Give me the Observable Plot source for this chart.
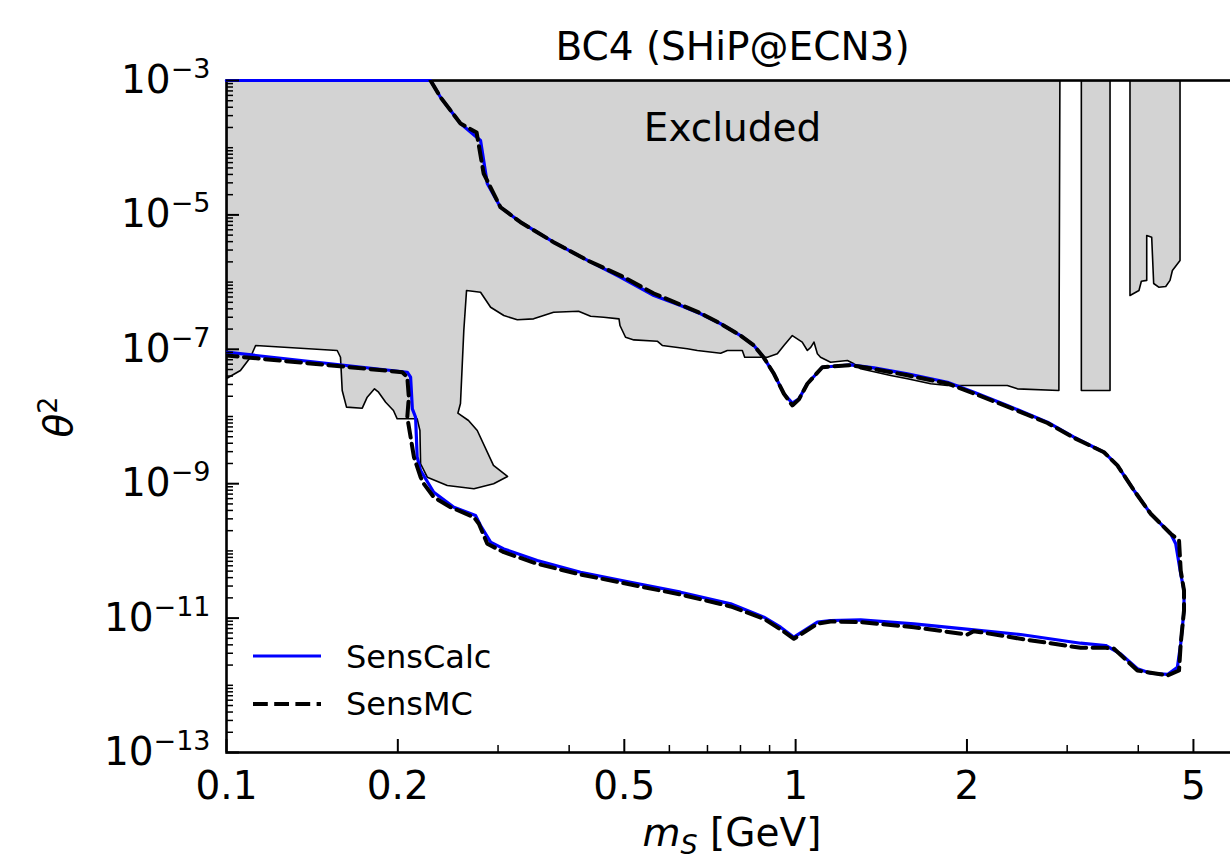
<!DOCTYPE html>
<html><head><meta charset="utf-8">
<script src="https://cdn.jsdelivr.net/npm/d3@7"></script>
<script src="https://cdn.jsdelivr.net/npm/@observablehq/plot@0.6"></script>
<style>
html,body{margin:0;padding:0;background:#fff;overflow:hidden;}
#chart{width:1230px;height:863px;overflow:hidden;}
#chart svg{max-width:none !important;width:1238px !important;height:863px !important;}
</style></head><body><div id="chart"></div>
<script>
// ---------- data ----------
const calcMass = [0.2283,0.2377,0.2577,0.2795,0.2872,0.3030,0.3286,0.3756,0.4310,0.4927,
  0.5636,0.6279,0.6808,0.7384,0.8004,0.8447,0.8796,0.9160,0.9537,0.9867,
  1.0135,1.0486,1.114,1.168,1.249,1.373,1.572,1.848,2.058,2.355,
  2.770,3.084,3.482,3.676,3.932,4.206,4.561,4.654,4.749,4.813,
  4.813,4.749,4.686,4.503,4.206,3.986,3.725,3.506,3.168,2.485,
  2.058,1.614,1.301,1.152,1.092,0.993,0.941,0.8796,0.7689,0.6279,
  0.5129,0.4188,0.3516,0.3071,0.2911,0.2795,0.2739,0.2509,0.2313,0.2193,
  0.2163,0.2149,0.2121,0.2106,0.2078,0.1];
const calcTheta2 = [1e-3,5.64e-4,2.29e-4,1.28e-4,2.93e-5,1.30e-5,7.78e-6,3.93e-6,2.10e-6,1.18e-6,
  6.32e-7,4.49e-7,3.38e-7,2.40e-7,1.60e-7,1.14e-7,7.47e-8,4.32e-8,2.18e-8,1.58e-8,
  1.83e-8,3.07e-8,5.41e-8,5.60e-8,5.88e-8,5.30e-8,4.32e-8,3.24e-8,2.30e-8,1.46e-8,
  8.23e-9,4.92e-9,2.94e-9,1.87e-9,7.92e-10,3.57e-10,1.80e-10,1.28e-10,4.56e-11,2.57e-11,
  1.30e-11,4.15e-12,1.86e-12,1.45e-12,1.51e-12,1.76e-12,2.94e-12,3.91e-12,4.23e-12,5.70e-12,
  6.70e-12,8.23e-12,9.43e-12,9.21e-12,8.69e-12,5.20e-12,7.32e-12,1.03e-11,1.63e-11,2.43e-11,
  3.42e-11,4.82e-11,7.20e-11,1.07e-10,1.35e-10,2.39e-10,3.36e-10,4.47e-10,7.47e-10,1.57e-9,
  2.48e-9,9.76e-9,1.30e-8,3.85e-8,4.56e-8,9.05e-8];
// SensCalc also runs along the upper frame edge to the left
const calcTopMass = [0.1, 0.2283];
const calcTopTheta2 = [1e-3, 1e-3];

const mcMass = [0.2283,0.2377,0.2577,0.2751,0.2830,0.3030,0.3286,0.3756,0.4310,0.4927,
  0.5636,0.6279,0.6808,0.7384,0.8004,0.8447,0.8796,0.9160,0.9537,0.9867,
  1.0135,1.0486,1.114,1.168,1.249,1.373,1.572,1.848,2.058,2.355,
  2.770,3.084,3.482,3.676,3.932,4.206,4.561,4.717,4.749,4.813,
  4.813,4.749,4.717,4.503,3.986,3.622,3.506,3.168,2.485,2.114,
  2.055,2.003,1.614,1.301,1.152,1.092,0.993,0.941,0.8796,0.7689,
  0.6279,0.5129,0.4188,0.3516,0.3071,0.2872,0.2776,0.2721,0.2476,0.2313,
  0.2222,0.2193,0.2135,0.2078,0.2091,0.2078,0.2036,0.1];
const mcTheta2 = [1e-3,5.64e-4,2.29e-4,1.68e-4,4.13e-5,1.30e-5,7.78e-6,3.93e-6,2.10e-6,1.25e-6,
  6.77e-7,4.60e-7,3.45e-7,2.40e-7,1.60e-7,1.14e-7,7.47e-8,4.32e-8,2.18e-8,1.46e-8,
  1.80e-8,3.07e-8,5.41e-8,5.60e-8,5.80e-8,5.10e-8,4.10e-8,3.10e-8,2.20e-8,1.40e-8,
  8.00e-9,4.80e-9,2.94e-9,1.87e-9,7.92e-10,3.57e-10,1.80e-10,1.43e-10,5.11e-11,2.57e-11,
  1.30e-11,4.15e-12,1.66e-12,1.40e-12,1.66e-12,3.53e-12,3.61e-12,3.61e-12,4.92e-12,6.17e-12,
  6.38e-12,5.70e-12,7.32e-12,8.69e-12,8.90e-12,8.23e-12,4.92e-12,6.77e-12,9.76e-12,1.49e-11,
  2.24e-11,3.16e-11,4.45e-11,6.43e-11,9.56e-11,1.28e-10,2.53e-10,3.17e-10,4.47e-10,6.30e-10,
  9.97e-10,1.25e-9,2.48e-9,9.76e-9,1.94e-8,3.85e-8,4.56e-8,8.09e-8];

// Excluded region (three grey polygons)
const exclMainMass = [0.1,2.913,2.901,2.453,2.355,1.848,1.727,1.572,1.469,1.301,
  1.266,1.233,1.152,1.106,1.092,1.077,1.063,1.0486,1.027,0.9867,
  0.9537,0.9286,0.8919,0.8138,0.8059,0.7586,0.7384,0.6718,0.6452,0.5830,
  0.5713,0.5198,0.5025,0.4913,0.4894,0.4599,0.4363,0.4155,0.3756,0.3464,
  0.3243,0.3071,0.2911,0.2795,0.2641,0.2612,0.2577,0.2550,0.2662,0.2758,
  0.2945,0.3117,0.2947,0.2721,0.2443,0.2253,0.2193,0.2187,0.2163,0.1995,
  0.1965,0.1904,0.1850,0.1820,0.1767,0.1732,0.1625,0.1597,0.1586,0.1565,
  0.1125,0.1102,0.1058,0.1];
const exclMainTheta2 = [1e-3,1e-3,2.44e-8,2.58e-8,2.89e-8,2.89e-8,3.07e-8,3.64e-8,4.08e-8,5.13e-8,
  6.09e-8,6.81e-8,6.43e-8,7.62e-8,8.57e-8,1.28e-7,1.07e-7,9.60e-8,1.28e-7,1.60e-7,
  1.14e-7,8.57e-8,7.62e-8,7.62e-8,9.60e-8,9.60e-8,8.75e-8,9.60e-8,1.02e-7,1.14e-7,
  1.32e-7,1.38e-7,1.51e-7,2.26e-7,2.84e-7,3.00e-7,3.11e-7,3.69e-7,3.56e-7,2.84e-7,
  2.75e-7,3.18e-7,4.23e-7,7.07e-7,7.50e-7,1.90e-7,1.56e-8,1.12e-8,8.72e-9,6.19e-9,
  1.87e-9,1.28e-9,9.97e-10,8.40e-10,9.40e-10,1.25e-9,1.98e-9,6.19e-9,9.24e-9,9.24e-9,
  1.23e-8,1.63e-8,2.30e-8,2.58e-8,1.94e-8,1.33e-8,1.38e-8,2.44e-8,7.62e-8,9.60e-8,
  1.14e-7,7.62e-8,4.84e-8,3.68e-8];
const exclBand2Mass = [3.177,3.568,3.568,3.177];
const exclBand2Theta2 = [1e-3,1e-3,2.44e-8,2.44e-8];
const exclBand3Mass = [3.868,4.736,4.736,4.592,4.548,4.470,4.345,4.257,4.223,4.139,4.139,4.050,4.011,3.868];
const exclBand3Theta2 = [1e-3,1e-3,2.10e-6,1.49e-6,1.06e-6,8.60e-7,8.40e-7,9.53e-7,4.66e-6,4.94e-6,1.06e-6,1.03e-6,7.50e-7,6.32e-7];

// ticks and labels
const xTicks = [0.1,0.2,0.5,1,2,5];
const xTickLabels = ["0.1","0.2","0.5","1","2","5"];
const xMinorTicks = [0.3,0.4,0.6,0.7,0.8,0.9,3,4];
const yTicks = [1e-3,1e-5,1e-7,1e-9,1e-11,1e-13];
const yTickBase = "10";
const yTickExponents = ["\u22123","\u22125","\u22127","\u22129","\u221211","\u221213"];
const yMinorExps = [-13,-12,-11,-10,-9,-8,-7,-6,-5,-4];
const yMinorMult = [1,2,3,4,5,6,7,8,9];

const title = "BC4 (SHiP@ECN3)";
const seriesNames = ["SensCalc","SensMC"];

// ---------- build tables ----------
const rows = (m, t, g) => m.map((d, i) => ({m: d, t: t[i], g}));
const exclRows = [...rows(exclMainMass, exclMainTheta2, "a"), ...rows(exclBand2Mass, exclBand2Theta2, "b"), ...rows(exclBand3Mass, exclBand3Theta2, "c")];
const calcRows = rows(calcMass, calcTheta2, "calc");
const calcTopRows = rows(calcTopMass, calcTopTheta2, "top");
const mcRows = rows(mcMass, mcTheta2, "mc");
const yMinor = yMinorExps.flatMap(e => yMinorMult.filter(k => !(k === 1 && e % 2 !== 0)).map(k => k * Math.pow(10, e)));
const xLabelMap = new Map(xTicks.map((v, i) => [v, xTickLabels[i]]));
const yExpMap = new Map(yTicks.map((v, i) => [v, yTickExponents[i]]));

const W = 1238, H = 863, ML = 226, MT = 80, MB = 111, MR = 0;
const PW = W - ML - MR, PH = H - MT - MB;

const chart = Plot.plot({
  width: W, height: H, marginLeft: ML, marginRight: MR, marginTop: MT, marginBottom: MB,
  style: {fontFamily: "DejaVu Sans", fontSize: "39px", color: "black", background: "white", overflow: "visible", maxWidth: "none"},
  x: {type: "log", domain: [0.1, 6], axis: null},
  y: {type: "log", domain: [1e-13, 1e-3], axis: null},
  marks: [
    Plot.line(exclRows, {x: "m", y: "t", z: "g", fill: "#d3d3d3", stroke: "black", strokeWidth: 1.6, curve: "linear-closed", clip: true}),
    Plot.frame({stroke: "black", strokeWidth: 2.6}),
    Plot.line(calcTopRows, {x: "m", y: "t", stroke: "#0000ff", strokeWidth: 3.2, clip: false}),
    Plot.line(calcRows, {x: "m", y: "t", stroke: "#0000ff", strokeWidth: 3.2, clip: true}),
    Plot.line(mcRows, {x: "m", y: "t", stroke: "black", strokeWidth: 4, strokeDasharray: "14.8,6.4", clip: true}),
    Plot.tickY(yMinor, {y: d => d, insetRight: PW - 7, stroke: "black", strokeWidth: 1.5}),
    Plot.tickY(yTicks, {y: d => d, insetRight: PW - 13, stroke: "black", strokeWidth: 2}),
    Plot.tickX(xMinorTicks, {x: d => d, insetTop: PH - 7, stroke: "black", strokeWidth: 1.5}),
    Plot.tickX(xTicks, {x: d => d, insetTop: PH - 13, stroke: "black", strokeWidth: 2}),
    Plot.axisY({ticks: yTicks, anchor: "left", tickSize: 0, tickPadding: 16, tickFormat: d => yTickBase + "|" + yExpMap.get(d), label: null}),
    Plot.axisX({ticks: xTicks, anchor: "bottom", tickSize: 0, tickPadding: 19, tickFormat: d => xLabelMap.get(d), label: null}),
    Plot.text([title], {text: d => d, frameAnchor: "top", lineAnchor: "bottom", dy: -21}),
    Plot.text(["Excluded"], {text: d => d, frameAnchor: "top", lineAnchor: "bottom", dy: 60})
  ]
});

const svg = d3.select(chart);
// y tick labels: base with raised exponent
svg.selectAll("text").each(function() {
  const t = this.textContent;
  if (t.indexOf("|") < 0) return;
  const [base, exp] = t.split("|");
  const el = d3.select(this);
  el.text(null);
  el.append("tspan").text(base);
  el.append("tspan").attr("font-size", 27).attr("dy", -15).text(exp);
});

// y axis label θ²
const yl = svg.append("text").attr("transform", "translate(72,417) rotate(-90)")
  .attr("text-anchor", "middle").attr("font-size", 39).attr("fill", "black");
yl.append("tspan").attr("font-style", "italic").text("\u03B8");
yl.append("tspan").attr("font-size", 27).attr("dy", -15).text("2");

// x axis label with subscript
const xl = svg.append("text").attr("x", (ML + W - MR) / 2).attr("y", 846).attr("text-anchor", "middle")
  .attr("font-size", 39).attr("fill", "black");
xl.append("tspan").attr("font-style", "italic").text("m");
xl.append("tspan").attr("font-style", "italic").attr("font-size", 27).attr("dy", 8).text("S");
xl.append("tspan").attr("dy", -8).text(" [GeV]");

// legend
const lg = svg.append("g").attr("font-size", 32).attr("fill", "black").attr("text-anchor", "start");
lg.append("line").attr("x1", 253).attr("x2", 321).attr("y1", 656).attr("y2", 656)
  .attr("stroke", "#0000ff").attr("stroke-width", 3.2);
lg.append("line").attr("x1", 253).attr("x2", 321).attr("y1", 704).attr("y2", 704)
  .attr("stroke", "black").attr("stroke-width", 4).attr("stroke-dasharray", "14.8,6.4");
lg.append("text").attr("x", 346).attr("y", 668).attr("text-anchor", "start").text(seriesNames[0]);
lg.append("text").attr("x", 346).attr("y", 715).attr("text-anchor", "start").text(seriesNames[1]);

document.getElementById("chart").appendChild(chart);
</script>
</body></html>
